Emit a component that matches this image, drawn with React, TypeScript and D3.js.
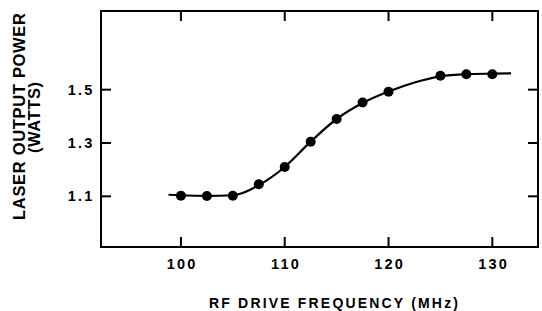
import * as d3 from 'd3';
import React from "react";

const WIDTH = 542;
const HEIGHT = 311;
const FONT = "'Liberation Sans', Arial, Helvetica, sans-serif";

// measured points (MHz, watts)
const freq = [100, 102.5, 105, 107.5, 110, 112.5, 115, 117.5, 120, 125, 127.5, 130];
const power = [1.102, 1.101, 1.102, 1.145, 1.21, 1.305, 1.39, 1.452, 1.492, 1.552, 1.558, 1.558];

// hand drawn fit curve
const fitFreq = [98.8, 100, 102.5, 105, 107.5, 110, 112.5, 115, 117.5, 120, 122.5, 125, 127.5, 130, 131.8];
const fitPower = [1.106, 1.104, 1.102, 1.104, 1.142, 1.21, 1.305, 1.39, 1.45, 1.493, 1.527, 1.55, 1.558, 1.56, 1.561];

const xTicks = [100, 110, 120, 130];
const yTicks = [1.1, 1.3, 1.5];

const x = d3.scaleLinear().domain([92.3, 134.4]).range([101, 538]);
const y = d3.scaleLinear().domain([0.91, 1.795]).range([247, 11]);

const TICK = 10;

export default function App() {
    const line = d3.line<number>()
        .x((d, i) => x(fitFreq[i]))
        .y((d, i) => y(fitPower[i]))
        .curve(d3.curveMonotoneX);

    const [x0, x1] = x.range();
    const [y0, y1] = y.range();

    return (
        <svg width={WIDTH} height={HEIGHT}
             style={{position: 'absolute', left: 0, top: 0, background: '#fff'}}>
            <rect x={x0} y={y1} width={x1 - x0} height={y0 - y1}
                  fill="none" stroke="#000" strokeWidth={2}/>
            {xTicks.map(t => (
                <g key={'x' + t}>
                    <line x1={x(t)} x2={x(t)} y1={y0} y2={y0 - TICK} stroke="#000" strokeWidth={2}/>
                    <line x1={x(t)} x2={x(t)} y1={y1} y2={y1 + TICK} stroke="#000" strokeWidth={2}/>
                    <text x={x(t) + 1.2} y={268.5} textAnchor="middle" fontFamily={FONT}
                          fontWeight="bold" fontSize={14.5} letterSpacing={2.2}>{t}</text>
                </g>
            ))}
            {yTicks.map(t => (
                <g key={'y' + t}>
                    <line x1={x0} x2={x0 + TICK} y1={y(t)} y2={y(t)} stroke="#000" strokeWidth={2}/>
                    <line x1={x1} x2={x1 - TICK} y1={y(t)} y2={y(t)} stroke="#000" strokeWidth={2}/>
                    <text x={94.5} y={y(t) + 5} textAnchor="end" fontFamily={FONT}
                          fontWeight="bold" fontSize={14.5} letterSpacing={2.2}>{t.toFixed(1)}</text>
                </g>
            ))}
            <path d={line(fitFreq) || ''} fill="none" stroke="#000" strokeWidth={2.2}/>
            {freq.map((f, i) => (
                <circle key={f} cx={x(f)} cy={y(power[i])} r={5} fill="#000"/>
            ))}
            <text x={209} y={307.5} textLength={249} lengthAdjust="spacing"
                  fontFamily={FONT} fontWeight="bold" fontSize={14}>RF DRIVE FREQUENCY (MHz)</text>
            <text transform="translate(25,116.5) rotate(-90)" x={-103.5} y={0}
                  textLength={207} lengthAdjust="spacing"
                  fontFamily={FONT} fontWeight="bold" fontSize={16.5}>LASER OUTPUT POWER</text>
            <text transform="translate(40,117.5) rotate(-90)" x={-35.5} y={0}
                  textLength={71} lengthAdjust="spacing"
                  fontFamily={FONT} fontWeight="bold" fontSize={16.5}>(WATTS)</text>
        </svg>
    );
}
